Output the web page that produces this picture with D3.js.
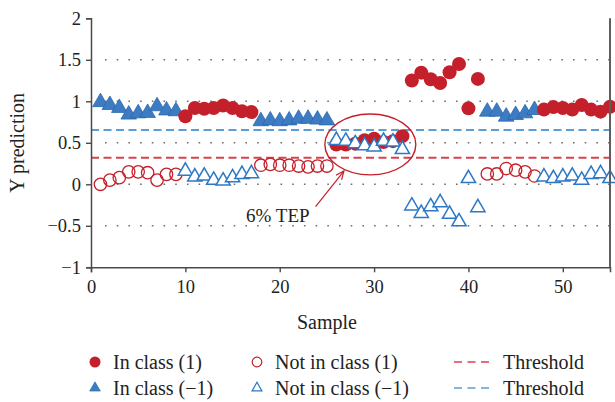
<!DOCTYPE html>
<html>
<head>
<meta charset="utf-8">
<script src="https://cdn.jsdelivr.net/npm/d3@7"></script>
<style>
  html, body { margin: 0; padding: 0; background: #fff; }
  svg { display: block; font-family: "Liberation Serif", "Times New Roman", serif; }
</style>
</head>
<body>
<svg id="chart" width="615" height="402"></svg>
<script>
// Sample index
const samples = [1,2,3,4,5,6,7,8,9,10,11,12,13,14,15,16,17,18,19,20,21,22,23,24,25,26,27,28,29,30,
                 31,32,33,34,35,36,37,38,39,40,41,42,43,44,45,46,47,48,49,50,51,52,53,54,55];

// Prediction of the class (1) model for each sample
const predClass1 = [0.00,0.05,0.08,0.15,0.15,0.14,0.05,0.12,0.12,
                    0.82,0.92,0.91,0.92,0.95,0.92,0.88,0.87,
                    0.23,0.24,0.23,0.23,0.22,0.21,0.22,0.22,
                    0.48,0.48,0.49,0.53,0.55,0.51,0.52,0.58,
                    1.25,1.345,1.265,1.22,1.35,1.45,0.915,1.27,
                    0.125,0.125,0.19,0.17,0.15,0.10,
                    0.90,0.93,0.92,0.90,0.955,0.90,0.875,0.935];

// Prediction of the class (−1) model for each sample
const predClassNeg1 = [0.99,0.955,0.92,0.84,0.855,0.86,0.94,0.89,0.88,
                       0.16,0.09,0.10,0.05,0.04,0.08,0.12,0.13,
                       0.76,0.77,0.76,0.77,0.79,0.79,0.78,0.77,
                       0.53,0.52,0.49,0.465,0.45,0.52,0.51,0.42,
                       -0.26,-0.35,-0.27,-0.22,-0.36,-0.45,0.07,-0.28,
                       0.875,0.875,0.815,0.835,0.855,0.895,
                       0.09,0.07,0.09,0.10,0.05,0.12,0.13,0.07];

const threshold1 = 0.32;
const thresholdNeg1 = 0.655;

const xTicks = [0, 10, 20, 30, 40, 50];
const yTicks = [-1, -0.5, 0, 0.5, 1, 1.5, 2];
const gridValues = [-0.5, 0, 0.5, 1, 1.5];

// Highlighted group and its note (data coordinates)
const noteText = "6% TEP";
const noteEllipse = { cx: 29.6, cy: 0.48, rx: 4.82, ry: 0.367 };
const noteArrow = { x1: 23.8, y1: -0.27, x2: 26.8, y2: 0.16 };
const notePos = { x: 19.8, y: -0.46 };

const RED = "#c4202b";
const RED_DASH = "#d7434c";
const BLUE_FILL = "#3d7cc2";
const BLUE_EDGE = "#2a68ad";
const BLUE_OPEN = "#2c78c6";
const BLUE_DASH = "#5b9dd6";
const AXIS = "#4a4a4a";

const svg = d3.select("#chart");
const plot = { left: 91, right: 610, top: 18.3, bottom: 267.3 };

const x = d3.scaleLinear().domain([0, 55]).range([plot.left, plot.right]);
const y = d3.scaleLinear().domain([-1, 2]).range([plot.bottom, plot.top]);

const rows = samples.map((s, i) => ({ s, p1: predClass1[i], pn: predClassNeg1[i] }));

// Dotted grid
svg.append("g").selectAll("line").data(gridValues).join("line")
  .attr("x1", plot.left + 14).attr("x2", plot.right)
  .attr("y1", d => y(d)).attr("y2", d => y(d))
  .attr("stroke", "#6e6e6e").attr("stroke-width", 1.6)
  .attr("stroke-dasharray", "1.6,10.1");

// Threshold lines
svg.append("line")
  .attr("x1", plot.left).attr("x2", plot.right)
  .attr("y1", y(thresholdNeg1)).attr("y2", y(thresholdNeg1))
  .attr("stroke", BLUE_DASH).attr("stroke-width", 2).attr("stroke-dasharray", "8,4.5");
svg.append("line")
  .attr("x1", plot.left).attr("x2", plot.right)
  .attr("y1", y(threshold1)).attr("y2", y(threshold1))
  .attr("stroke", RED_DASH).attr("stroke-width", 2).attr("stroke-dasharray", "8,4.5");

const triFilled = d3.symbol().type(d3.symbolTriangle).size(105);
const triOpen = d3.symbol().type(d3.symbolTriangle).size(88);

// In class (−1): filled triangles
svg.append("g").selectAll("path")
  .data(rows.filter(d => d.pn >= thresholdNeg1)).join("path")
  .attr("d", triFilled)
  .attr("transform", d => `translate(${x(d.s)},${y(d.pn)})`)
  .attr("fill", BLUE_FILL).attr("stroke", BLUE_EDGE).attr("stroke-width", 0.8);

// In class (1): filled circles
svg.append("g").selectAll("circle")
  .data(rows.filter(d => d.p1 >= threshold1)).join("circle")
  .attr("cx", d => x(d.s)).attr("cy", d => y(d.p1)).attr("r", 7)
  .attr("fill", RED);

// Not in class (1): open circles
svg.append("g").selectAll("circle")
  .data(rows.filter(d => d.p1 < threshold1)).join("circle")
  .attr("cx", d => x(d.s)).attr("cy", d => y(d.p1)).attr("r", 6.2)
  .attr("fill", "none").attr("stroke", RED).attr("stroke-width", 1.3);

// Not in class (−1): open triangles
svg.append("g").selectAll("path")
  .data(rows.filter(d => d.pn < thresholdNeg1)).join("path")
  .attr("d", triOpen)
  .attr("transform", d => `translate(${x(d.s)},${y(d.pn)})`)
  .attr("fill", "#fff").attr("stroke", BLUE_OPEN).attr("stroke-width", 1.5)
  .attr("stroke-linejoin", "miter");

// Axes
const xAxis = svg.append("g")
  .attr("transform", `translate(0,${plot.bottom})`)
  .call(d3.axisBottom(x).tickValues(xTicks).tickSize(5).tickPadding(8).tickFormat(d3.format("d")));
const yAxis = svg.append("g")
  .attr("transform", `translate(${plot.left},0)`)
  .call(d3.axisLeft(y).tickValues(yTicks).tickSize(5).tickPadding(5)
    .tickFormat(d => d < 0 ? "\u2212" + Math.abs(d) : String(d)));

[xAxis, yAxis].forEach(g => {
  g.select(".domain").attr("stroke", AXIS).attr("stroke-width", 1.5);
  g.selectAll(".tick line").attr("stroke", AXIS).attr("stroke-width", 1.4);
  g.selectAll(".tick text").attr("fill", "#222").attr("font-size", 18.5)
    .attr("font-family", "Liberation Serif, serif");
});

// Right frame edge
svg.append("line")
  .attr("x1", plot.right).attr("x2", plot.right)
  .attr("y1", plot.top).attr("y2", plot.bottom)
  .attr("stroke", "#5e5e5e").attr("stroke-width", 2);

// Axis titles
svg.append("text")
  .attr("x", x((xTicks[0] + xTicks[xTicks.length - 1]) / 2)).attr("y", 329)
  .attr("text-anchor", "middle").attr("font-size", 20).attr("fill", "#222")
  .text("Sample");
svg.append("text")
  .attr("transform", `translate(24,${(plot.top + plot.bottom) / 2}) rotate(-90)`)
  .attr("text-anchor", "middle").attr("font-size", 20).attr("fill", "#222")
  .text("Y prediction");

// Highlight around the overlapping group
svg.append("ellipse")
  .attr("cx", x(noteEllipse.cx)).attr("cy", y(noteEllipse.cy))
  .attr("rx", x(noteEllipse.cx + noteEllipse.rx) - x(noteEllipse.cx))
  .attr("ry", y(noteEllipse.cy - noteEllipse.ry) - y(noteEllipse.cy))
  .attr("fill", "none").attr("stroke", RED).attr("stroke-width", 1.4);

const ax1 = x(noteArrow.x1), ay1 = y(noteArrow.y1), ax2 = x(noteArrow.x2), ay2 = y(noteArrow.y2);
svg.append("line")
  .attr("x1", ax1).attr("y1", ay1).attr("x2", ax2).attr("y2", ay2)
  .attr("stroke", RED).attr("stroke-width", 1.2);
{
  const ang = Math.atan2(ay2 - ay1, ax2 - ax1);
  const len = 9, spread = 0.42;
  const p = d3.path();
  p.moveTo(ax2 - len * Math.cos(ang - spread), ay2 - len * Math.sin(ang - spread));
  p.lineTo(ax2, ay2);
  p.lineTo(ax2 - len * Math.cos(ang + spread), ay2 - len * Math.sin(ang + spread));
  svg.append("path").attr("d", p.toString())
    .attr("fill", "none").attr("stroke", RED).attr("stroke-width", 1.2);
}
svg.append("text")
  .attr("x", x(notePos.x)).attr("y", y(notePos.y))
  .attr("text-anchor", "middle").attr("font-size", 19).attr("fill", "#222")
  .text(noteText);

// Legend
const legendItems = [
  { label: "In class (1)", kind: "dot", col: 0, row: 0 },
  { label: "Not in class (1)", kind: "ring", col: 1, row: 0 },
  { label: "Threshold", kind: "dashRed", col: 2, row: 0 },
  { label: "In class (\u22121)", kind: "tri", col: 0, row: 1 },
  { label: "Not in class (\u22121)", kind: "triOpen", col: 1, row: 1 },
  { label: "Threshold", kind: "dashBlue", col: 2, row: 1 }
];
const colX = [95, 257, 454];
const rowY = [362, 388];
const legend = svg.append("g");
legendItems.forEach(it => {
  const g = legend.append("g").attr("transform", `translate(${colX[it.col]},${rowY[it.row]})`);
  let textX = 18;
  if (it.kind === "dot") {
    g.append("circle").attr("r", 5.5).attr("fill", RED);
  } else if (it.kind === "ring") {
    g.append("circle").attr("r", 4.8).attr("fill", "none").attr("stroke", RED).attr("stroke-width", 1.2);
  } else if (it.kind === "tri") {
    g.append("path").attr("d", d3.symbol().type(d3.symbolTriangle).size(50))
      .attr("fill", BLUE_FILL).attr("stroke", BLUE_EDGE).attr("stroke-width", 0.6);
  } else if (it.kind === "triOpen") {
    g.append("path").attr("d", d3.symbol().type(d3.symbolTriangle).size(42))
      .attr("fill", "#fff").attr("stroke", BLUE_OPEN).attr("stroke-width", 1.2);
  } else {
    g.append("line").attr("x1", 0).attr("x2", 35).attr("y1", 0).attr("y2", 0)
      .attr("stroke", it.kind === "dashRed" ? RED_DASH : BLUE_DASH)
      .attr("stroke-width", 1.6).attr("stroke-dasharray", "8,5.5");
    textX = 49;
  }
  g.append("text").attr("x", textX).attr("y", 6.5).attr("font-size", 20).attr("fill", "#222")
    .text(it.label);
});
</script>
</body>
</html>
